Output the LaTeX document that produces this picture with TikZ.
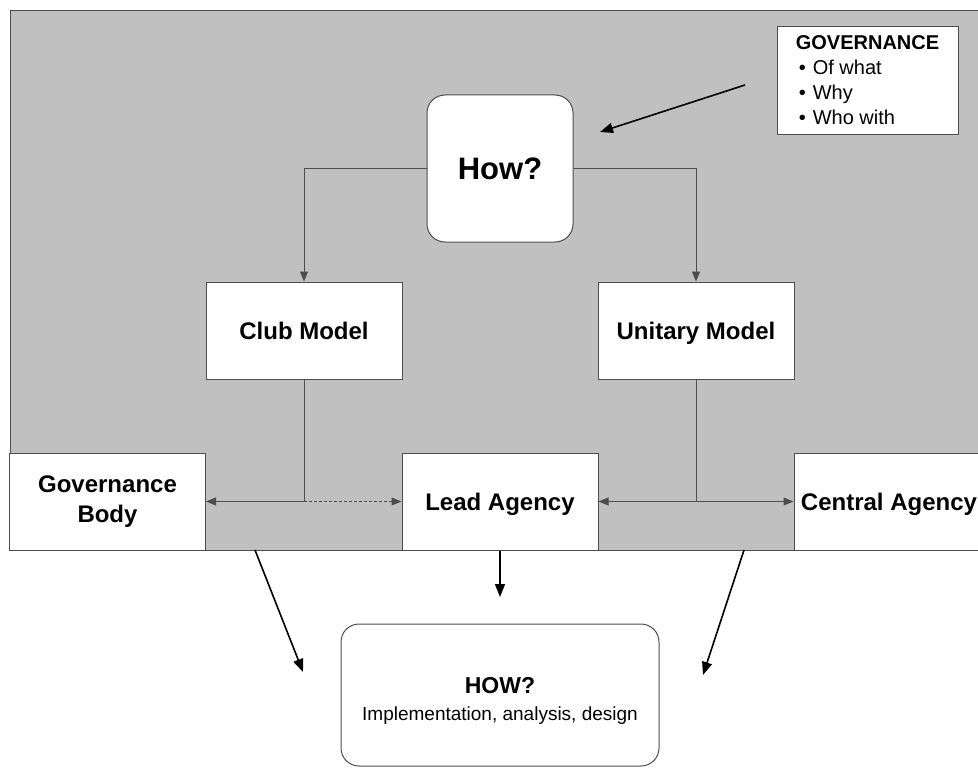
\documentclass[tikz,border=0pt]{standalone}
\usepackage{fontspec}
\setmainfont{Liberation Sans}
\usetikzlibrary{arrows.meta,positioning,calc}
\definecolor{panelgray}{HTML}{C0C0C0}
\definecolor{edgegray}{HTML}{4D4D4D}
\tikzstyle{panel}=[fill=panelgray, draw=edgegray, line width=1pt]
\tikzstyle{modelbox}=[draw=edgegray, fill=white, line width=1pt, inner sep=0pt, minimum width=196pt, minimum height=97pt, align=center, font=\fontsize{24}{30}\selectfont\bfseries]
\tikzstyle{labelbox}=[modelbox, text height=22pt, text depth=5pt]
\tikzstyle{roundbox}=[modelbox, rounded corners=18pt]
\tikzstyle{wire}=[draw=edgegray, line width=1pt]
\tikzstyle{link}=[wire, -{Triangle[length=10pt,width=8pt]}]
\tikzstyle{bigarrow}=[draw=black, line width=1.6pt, -{Triangle[length=13pt,width=10pt]}]

\begin{document}
\begin{tikzpicture}[x=1pt, y=-1pt]

\useasboundingbox (0,0) rectangle (978,768);
\clip (0,0) rectangle (978,768);
\fill[white] (0,0) rectangle (978,768);
\draw [panel] (10,11) rectangle (1000,550);

\node (how) [roundbox, minimum width=146pt, minimum height=147pt, font=\fontsize{31}{37}\selectfont\bfseries] at (500,168.5) {How?};
\node (club) [labelbox] at (304,330.5) {Club Model};
\node (unitary) [labelbox] at (696,330.5) {Unitary Model};
\node (govbody) [modelbox] at (107.5,501.5) {Governance\\Body};
\node (lead) [labelbox] at (500,501.5) {Lead Agency};
\node (central) [labelbox, minimum width=190pt] at (889,501.5) {Central Agency};
\node (govbox) [modelbox, minimum width=181pt, minimum height=107pt, align=left, font=\fontsize{20}{25}\selectfont] at (867.5,80.5)
  {\textbf{GOVERNANCE}\\\hspace{3pt}\textbullet\hspace{7pt}Of what\\\hspace{3pt}\textbullet\hspace{7pt}Why\\\hspace{3pt}\textbullet\hspace{7pt}Who with};
\node (result) [roundbox, minimum width=318pt, minimum height=142pt, font=\fontsize{19}{27}\selectfont] at (500,695)
  {\rule{0pt}{27pt}{\fontsize{23}{27}\selectfont\bfseries HOW?}\\Implementation, analysis, design};

\coordinate (clubjoin) at (club.south |- govbody.east);
\coordinate (unitjoin) at (unitary.south |- lead.east);
\coordinate (govtail) at (745,85);
\coordinate (govtip) at (600,132);
\coordinate (lefttail) at (255,550);
\coordinate (lefttip) at (303,672);
\coordinate (midtip) at (500,597);
\coordinate (righttail) at (744,550);
\coordinate (righttip) at (703,675);

\draw [link] (how.west) -| (club.north);
\draw [link] (how.east) -| (unitary.north);
\draw [wire] (club.south) -- (clubjoin);
\draw [link] (clubjoin) -- (govbody.east);
\draw [link, dash pattern=on 3pt off 2pt] (clubjoin) -- (lead.west);
\draw [wire] (unitary.south) -- (unitjoin);
\draw [link] (unitjoin) -- (lead.east);
\draw [link] (unitjoin) -- (central.west);

\draw [bigarrow] (govtail) -- (govtip);
\draw [bigarrow] (lefttail) -- (lefttip);
\draw [bigarrow] (lead.south) -- (midtip);
\draw [bigarrow] (righttail) -- (righttip);

\end{tikzpicture}
\end{document}
